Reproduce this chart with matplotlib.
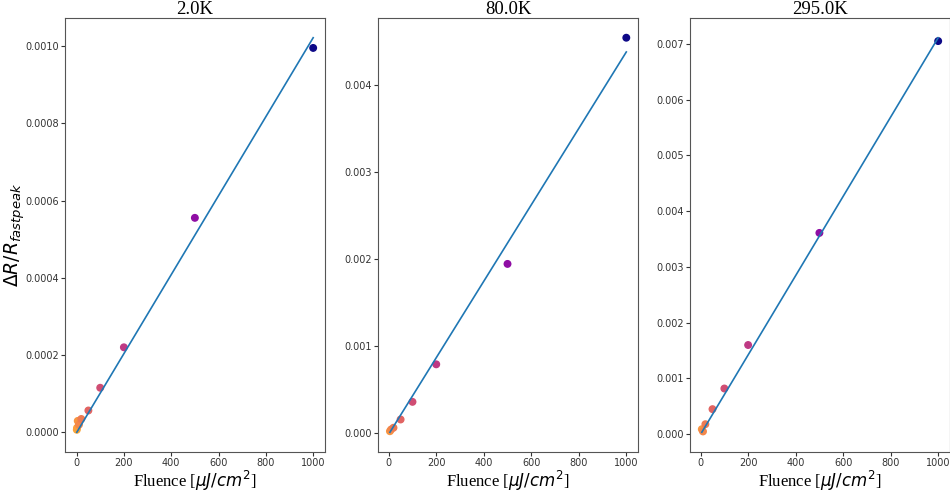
import numpy as np
import matplotlib
matplotlib.use('Agg')
import matplotlib.pyplot as plt

# dados
temps = ['2.0K', '80.0K', '295.0K']

fluence_2K = [1, 2, 5, 10, 20, 50, 100, 200, 500, 1000]
peak_2K = [0.000005, 0.000010, 0.000028, 0.000018, 0.000033, 0.000055, 0.000114, 0.000219, 0.000555, 0.000996]

fluence_80K = [5, 10, 20, 50, 100, 200, 500, 1000]
peak_80K = [0.00002, 0.00004, 0.00006, 0.000155, 0.000358, 0.00079, 0.001946, 0.00455]

fluence_295K = [5, 10, 20, 50, 100, 200, 500, 1000]
peak_295K = [0.00009, 0.00005, 0.00018, 0.00045, 0.00082, 0.0016, 0.00361, 0.00705]

# parametros do ajuste linear (inclinacao, intercepto)
fit_slope = [1.025e-6, 4.40e-6, 7.11e-6]
fit_intercept = [-0.0000025, -0.000014, 0.0]

# posicao no colormap para cada fluencia
cmap_pos = {1: 0.8, 2: 0.78, 5: 0.75, 10: 0.71, 20: 0.67, 50: 0.6,
            100: 0.52, 200: 0.45, 500: 0.3, 1000: 0.0}

fluences = [fluence_2K, fluence_80K, fluence_295K]
peaks = [peak_2K, peak_80K, peak_295K]

fig = plt.figure(figsize=(9.5, 4.93), dpi=100)
lefts = [0.0684, 0.398, 0.7263]
cmap = plt.get_cmap('plasma')

for i in range(3):
    ax = fig.add_axes([lefts[i], 0.0832, 0.2737, 0.8803])
    f = np.array(fluences[i])
    y = np.array(peaks[i])
    cores = [cmap(cmap_pos[v]) for v in fluences[i]]
    ax.scatter(f, y, c=cores, s=22, zorder=2)
    xl = np.array([f.min(), f.max()])
    ax.plot(xl, fit_slope[i] * xl + fit_intercept[i], color='#1f77b4', lw=1.2, zorder=3)
    ax.set_title(temps[i], fontsize=13.5, family='Liberation Serif', pad=1)
    ax.set_xlabel(r'Fluence [$\mu J/cm^2$]', fontsize=12, family='Liberation Serif')
    ax.xaxis.set_label_coords(0.5, -0.081)
    ax.xaxis.label.set_va('baseline')
    ax.set_xticks([0, 200, 400, 600, 800, 1000])
    ax.tick_params(labelsize=7, colors='#333333', length=3, pad=1.5)
    for sp in ax.spines.values():
        sp.set_color('#555555')
    if i == 0:
        ax.set_ylabel(r'$\Delta R/R_{fast peak}$', fontsize=13.5)
        ax.yaxis.set_label_coords(-0.195, 0.5)
        ax.yaxis.label.set_va('center')

fig.savefig('out.png', dpi=100)
